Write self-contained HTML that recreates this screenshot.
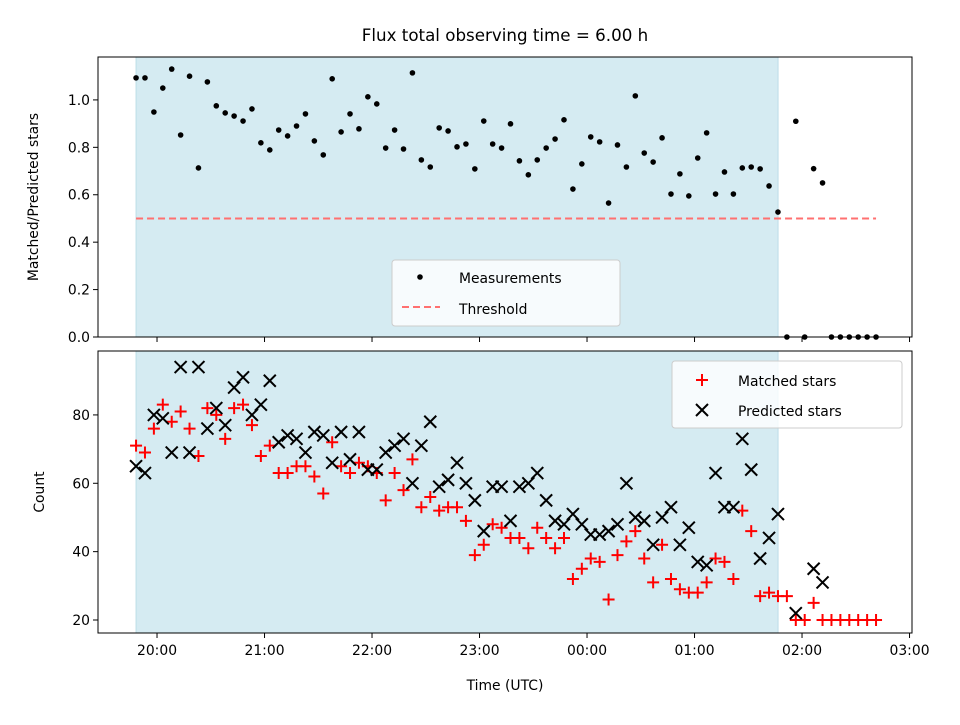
<!DOCTYPE html>
<html><head><meta charset="utf-8"><style>
body{margin:0;background:#fff}
svg text{font-family:"DejaVu Sans","Liberation Sans",sans-serif;fill:#000}
</style></head><body>
<svg id="fig" width="960" height="720" xmlns="http://www.w3.org/2000/svg"></svg>
<script>
// ---- data ----
const startHour = 19.805;      // first sample time (h, 24+ = next day)
const stepMinutes = 4.976;     // sample spacing
const ratioValues = [1.093,1.093,0.949,1.05,1.13,0.852,1.10,0.713,1.076,0.975,0.945,0.932,0.911,0.962,0.819,0.789,0.873,0.848,0.890,0.941,0.827,0.768,1.089,0.865,0.941,0.878,1.013,0.983,0.797,0.873,0.793,1.114,0.747,0.717,0.882,0.869,0.802,0.814,0.709,0.911,0.814,0.797,0.899,0.743,0.684,0.747,0.797,0.835,0.916,0.624,0.73,0.844,0.823,0.565,0.81,0.717,1.017,0.776,0.738,0.84,0.603,0.688,0.595,0.755,0.861,0.603,0.696,0.603,0.713,0.717,0.709,0.637,0.527,0,0.91,0,0.71,0.65,0,0,0,0,0,0];
const matchedValues = [71,69,76,83,78,81,76,68,82,80,73,82,83,77,68,71,63,63,65,65,62,57,72,65,63,66,65,63,55,63,58,67,53,56,52,53,53,49,39,42,48,47,44,44,41,47,44,41,44,32,35,38,37,26,39,43,46,38,31,42,32,29,28,28,31,38,37,32,52,46,27,28,27,27,20,20,25,20,20,20,20,20,20,20];
const predictedValues = [65,63,80,79,69,94,69,94,76,82,77,88,91,80,83,90,72,74,73,69,75,74,66,75,67,75,64,64,69,71,73,60,71,78,59,61,66,60,55,46,59,59,49,59,60,63,55,49,48,51,48,45,45,46,48,60,50,49,42,50,53,42,47,37,36,63,53,53,73,64,38,44,51,null,22,null,35,31,null,null,null,null,null,null];
const thresholdValue = 0.5;
const spanStart = 19.805, spanEnd = 25.777;
const xTickHours = [20,21,22,23,24,25,26,27];
const xTickLabels = ["20:00","21:00","22:00","23:00","00:00","01:00","02:00","03:00"];
const topTicks = [0,0.2,0.4,0.6,0.8,1.0];
const topTickLabels = ["0.0","0.2","0.4","0.6","0.8","1.0"];
const botTicks = [20,40,60,80];

// ---- axes ----
const L=98,R=912, T1=57,B1=337, T2=351,B2=633;
const xMin=19.451,xMax=27.023;
const X=h=>L+(h-xMin)/(xMax-xMin)*(R-L);
const Y1=v=>B1-(v-0)/(1.181-0)*(B1-T1);
const Y2=v=>B2-(v-16.2)/(98.7-16.2)*(B2-T2);
const times = ratioValues.map((_,i)=>startHour+i*stepMinutes/60);

const svg=document.getElementById('fig');
const NS='http://www.w3.org/2000/svg';
function el(tag,attrs,parent){const e=document.createElementNS(NS,tag);for(const k in attrs)e.setAttribute(k,attrs[k]);(parent||svg).appendChild(e);return e;}
function txt(s,attrs){const e=el('text',attrs);e.textContent=s;return e;}

let t=txt('Flux total observing time = 6.00 h',{x:505,y:41,'text-anchor':'middle','font-size':'16.7'});



function panel(T,B,Y,name){
  const g=el('g',{});
  
  
  const sp=el('rect',{x:X(spanStart),y:T,width:X(spanEnd)-X(spanStart),height:B-T,fill:'#d5ebf2',stroke:'#bcdde8','stroke-width':1},g);
  
  
  return g;
}
function frame(T,B,g){
  el('rect',{x:L,y:T,width:R-L,height:B-T,fill:'none',stroke:'#000','stroke-width':1},g);
  xTickHours.forEach(h=>{el('line',{x1:X(h),x2:X(h),y1:B,y2:B+5,stroke:'#000'},g);});
}

// top panel
const gTop=panel(T1,B1,Y1,'ratio-panel');
const th=el('line',{x1:X(times[0]),x2:X(times[times.length-1]),y1:Y1(thresholdValue),y2:Y1(thresholdValue),stroke:'#ff7070','stroke-width':2,'stroke-dasharray':'7,4'},gTop);


ratioValues.forEach((v,i)=>{
  const c=el('circle',{cx:X(times[i]),cy:Y1(v),r:2.8,fill:'#000'},gTop);
  
  
});
frame(T1,B1,gTop);
topTicks.forEach((v,i)=>{
  el('line',{x1:L-5,x2:L,y1:Y1(v),y2:Y1(v),stroke:'#000'},gTop);
  const tl=txt(topTickLabels[i],{x:L-8,y:Y1(v)+5,'text-anchor':'end','font-size':'13.9'});
  
  
});
let yl=txt('Matched/Predicted stars',{x:38,y:197,'text-anchor':'middle','font-size':'13.9',transform:'rotate(-90 38 197)'});



// top legend
const lg=el('g',{});


el('rect',{x:392,y:260,width:228,height:66,rx:3,fill:'#fff','fill-opacity':0.8,stroke:'#ccc'},lg);
el('circle',{cx:420,cy:277,r:2.8,fill:'#000'},lg);
el('line',{x1:402,x2:440,y1:307,y2:307,stroke:'#ff7070','stroke-width':2,'stroke-dasharray':'7,4'},lg);
let l1=txt('Measurements',{x:459,y:283,'font-size':'13.9'});
let l2=txt('Threshold',{x:459,y:314,'font-size':'13.9'});

// bottom panel
const gBot=panel(T2,B2,Y2,'count-panel');
function plus(cx,cy,g){const p=el('path',{d:`M${cx-6},${cy}H${cx+6}M${cx},${cy-6}V${cy+6}`,stroke:'#ff0000','stroke-width':2,fill:'none'},g);return p;}
function cross(cx,cy,g){const p=el('path',{d:`M${cx-6},${cy-6}L${cx+6},${cy+6}M${cx-6},${cy+6}L${cx+6},${cy-6}`,stroke:'#000','stroke-width':2,fill:'none'},g);return p;}
matchedValues.forEach((v,i)=>{
  if(v==null)return;
  const p=plus(X(times[i]),Y2(v),gBot);
  
  
});
predictedValues.forEach((v,i)=>{
  if(v==null)return;
  const p=cross(X(times[i]),Y2(v),gBot);
  
  
});
frame(T2,B2,gBot);
botTicks.forEach(v=>{
  el('line',{x1:L-5,x2:L,y1:Y2(v),y2:Y2(v),stroke:'#000'},gBot);
  const tl=txt(String(v),{x:L-8,y:Y2(v)+5,'text-anchor':'end','font-size':'13.9'});
  
  
});
xTickHours.forEach((h,i)=>{
  const tl=txt(xTickLabels[i],{x:X(h),y:B2+22,'text-anchor':'middle','font-size':'13.9'});
  
  
});
let yl2=txt('Count',{x:44,y:492,'text-anchor':'middle','font-size':'13.9',transform:'rotate(-90 44 492)'});


let xl=txt('Time (UTC)',{x:505,y:690,'text-anchor':'middle','font-size':'13.9'});



// bottom legend
const lg2=el('g',{});


el('rect',{x:672,y:361,width:230,height:67,rx:3,fill:'#fff','fill-opacity':0.8,stroke:'#ccc'},lg2);
plus(702,380,lg2);
cross(702,410,lg2);
let l3=txt('Matched stars',{x:738,y:386,'font-size':'13.9'});
let l4=txt('Predicted stars',{x:738,y:416,'font-size':'13.9'});
</script>
</body></html>
